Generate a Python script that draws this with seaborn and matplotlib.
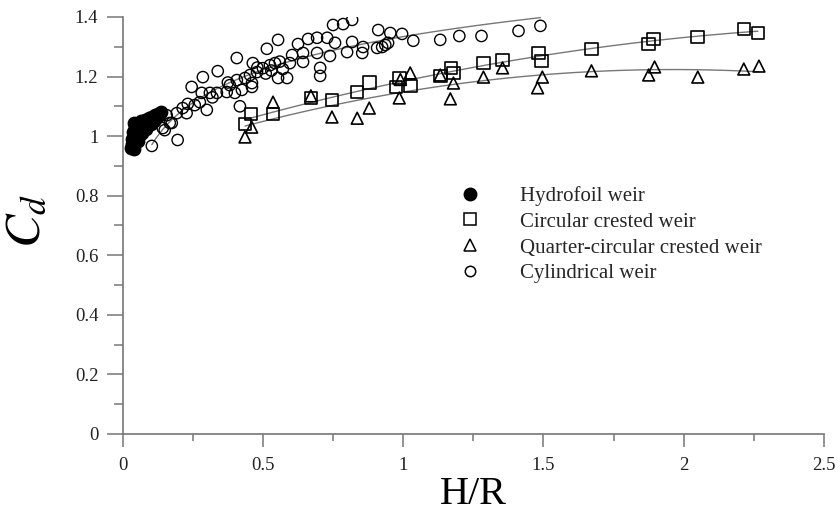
import numpy as np
import pandas as pd
import matplotlib
matplotlib.use("Agg")
import matplotlib.pyplot as plt
import seaborn as sns
from matplotlib.ticker import MultipleLocator
from matplotlib.lines import Line2D

# data
hydro_x = [0.030, 0.035, 0.040, 0.035, 0.040, 0.038, 0.045, 0.042, 0.050, 0.055,
           0.060, 0.055, 0.065, 0.065, 0.070, 0.075, 0.080, 0.085, 0.090, 0.095,
           0.100, 0.105, 0.110, 0.115, 0.120, 0.125, 0.130, 0.135]
hydro_y = [0.960, 0.975, 0.955, 0.990, 1.000, 1.015, 1.030, 1.045, 1.010, 0.985,
           1.000, 1.040, 1.025, 1.050, 1.010, 1.035, 1.055, 1.025, 1.045, 1.060,
           1.040, 1.065, 1.050, 1.070, 1.060, 1.075, 1.070, 1.080]

circ_x = [0.436, 0.457, 0.536, 0.671, 0.746, 0.836, 0.879, 0.975, 0.986, 1.025,
          1.132, 1.171, 1.179, 1.286, 1.354, 1.482, 1.493, 1.671, 1.875, 1.893,
          2.050, 2.214, 2.264]
circ_y = [1.040, 1.074, 1.074, 1.128, 1.121, 1.148, 1.180, 1.165, 1.195, 1.168,
          1.202, 1.229, 1.212, 1.245, 1.255, 1.279, 1.252, 1.292, 1.309, 1.326,
          1.333, 1.360, 1.346]

quar_x = [0.436, 0.460, 0.536, 0.671, 0.746, 0.836, 0.879, 0.986, 0.990, 1.025,
          1.132, 1.179, 1.168, 1.286, 1.354, 1.496, 1.479, 1.671, 1.875, 1.896,
          2.050, 2.214, 2.268]
quar_y = [0.997, 1.030, 1.114, 1.135, 1.064, 1.060, 1.094, 1.128, 1.190, 1.212,
          1.205, 1.178, 1.125, 1.198, 1.229, 1.198, 1.162, 1.219, 1.205, 1.232,
          1.198, 1.225, 1.235]

cyl_x = [0.104, 0.196, 0.143, 0.150, 0.168, 0.157, 0.175, 0.193, 0.214, 0.228,
         0.232, 0.257, 0.275, 0.300, 0.246, 0.286, 0.339, 0.282, 0.311, 0.336,
         0.371, 0.400, 0.425, 0.382, 0.407, 0.436, 0.454, 0.479, 0.500, 0.525,
         0.543, 0.461, 0.464, 0.407, 0.514, 0.554, 0.418, 0.461, 0.625, 0.661,
         0.693, 0.729, 0.750, 0.786, 0.818, 0.757, 0.818, 0.857, 0.800, 0.854,
         0.693, 0.739, 0.643, 0.604, 0.643, 0.596, 0.571, 0.704, 0.704, 0.911,
         0.954, 0.996, 0.907, 0.925, 0.936, 0.946, 0.554, 0.586, 1.036, 1.132,
         1.200, 1.279, 1.411, 1.489, 0.480, 0.510, 0.530, 0.560, 0.375, 0.320]
cyl_y = [0.967, 0.987, 1.027, 1.020, 1.044, 1.070, 1.044, 1.077, 1.094, 1.077,
         1.108, 1.104, 1.114, 1.088, 1.165, 1.198, 1.218, 1.145, 1.145, 1.145,
         1.148, 1.145, 1.155, 1.171, 1.188, 1.195, 1.205, 1.215, 1.228, 1.238,
         1.245, 1.178, 1.245, 1.262, 1.293, 1.323, 1.100, 1.165, 1.309, 1.326,
         1.330, 1.330, 1.373, 1.376, 1.390, 1.313, 1.316, 1.299, 1.282, 1.279,
         1.279, 1.269, 1.279, 1.272, 1.249, 1.245, 1.225, 1.229, 1.202, 1.356,
         1.346, 1.343, 1.296, 1.299, 1.306, 1.313, 1.195, 1.195, 1.320, 1.323,
         1.336, 1.336, 1.353, 1.370, 1.230, 1.210, 1.220, 1.250, 1.180, 1.130]

labels = ["Hydrofoil weir", "Circular crested weir",
          "Quarter-circular crested weir", "Cylindrical weir"]

hydro = pd.DataFrame({"HR": hydro_x, "Cd": hydro_y})
circ = pd.DataFrame({"HR": circ_x, "Cd": circ_y})
quar = pd.DataFrame({"HR": quar_x, "Cd": quar_y})
cyl = pd.DataFrame({"HR": cyl_x, "Cd": cyl_y})

sns.set_style("ticks")
plt.rcParams["font.family"] = ["Liberation Serif", "DejaVu Serif"]
plt.rcParams["mathtext.fontset"] = "stix"

fig = plt.figure(figsize=(8.4, 5.13), dpi=100)
ax = fig.add_axes([0.146, 0.154, 0.835, 0.813])

axis_col = "#777777"
line_col = "#777777"

# fitted curves
line_kw = {"color": line_col, "lw": 1.0}
sns.regplot(data=circ, x="HR", y="Cd", order=2, ci=None, scatter=False,
            truncate=True, ax=ax, line_kws=line_kw)
sns.regplot(data=quar, x="HR", y="Cd", order=2, ci=None, scatter=False,
            truncate=True, ax=ax, line_kws=line_kw)
sns.regplot(data=cyl, x="HR", y="Cd", logx=True, ci=None, scatter=False,
            truncate=True, ax=ax, line_kws=line_kw)

sns.scatterplot(data=cyl, x="HR", y="Cd", marker="o", s=66, facecolor="none",
                edgecolor="black", linewidth=1.0, ax=ax, zorder=3)
sns.scatterplot(data=circ, x="HR", y="Cd", marker="s", s=82, facecolor="none",
                edgecolor="black", linewidth=1.2, ax=ax, zorder=3)
sns.scatterplot(data=quar, x="HR", y="Cd", marker="^", s=72, facecolor="none",
                edgecolor="black", linewidth=1.2, ax=ax, zorder=3)
sns.scatterplot(data=hydro, x="HR", y="Cd", marker="o", s=80, color="black",
                edgecolor="black", linewidth=1.0, ax=ax, zorder=4)

ax.set_xlim(0, 2.5)
ax.set_ylim(0, 1.4)
ax.xaxis.set_minor_locator(MultipleLocator(0.25))
ax.yaxis.set_minor_locator(MultipleLocator(0.1))
ax.set_xticks([0, 0.5, 1, 1.5, 2, 2.5])
ax.set_xticklabels(["0", "0.5", "1", "1.5", "2", "2.5"])
ax.set_yticks([0, 0.2, 0.4, 0.6, 0.8, 1.0, 1.2, 1.4])
ax.set_yticklabels(["0", "0.2", "0.4", "0.6", "0.8", "1", "1.2", "1.4"])

for s in ["top", "right"]:
    ax.spines[s].set_visible(False)
for s in ["left", "bottom"]:
    ax.spines[s].set_color(axis_col)
    ax.spines[s].set_linewidth(1.2)

ax.tick_params(axis="y", which="major", length=11.5, width=1.1, color=axis_col,
               labelsize=13.5, labelcolor="#222222", pad=6)
ax.tick_params(axis="y", which="minor", length=6.5, width=1.1, color=axis_col)
ax.tick_params(axis="x", which="major", length=9.4, width=1.1, color=axis_col,
               labelsize=13.5, labelcolor="#222222", pad=7)
ax.tick_params(axis="x", which="minor", length=4.8, width=1.1, color=axis_col)

ax.set_xlabel("H/R", fontsize=29, color="black")
ax.set_ylabel("$C_d$", fontsize=36, color="black")
ax.xaxis.set_label_coords(0.5, -0.1)
ax.yaxis.set_label_coords(-0.103, 0.51)

handles = [
    Line2D([], [], ls="none", marker="o", ms=9, mfc="black", mec="black"),
    Line2D([], [], ls="none", marker="s", ms=8.5, mfc="none", mec="black", mew=1.1),
    Line2D([], [], ls="none", marker="^", ms=8.5, mfc="none", mec="black", mew=1.1),
    Line2D([], [], ls="none", marker="o", ms=7.5, mfc="none", mec="black", mew=1.1),
]
fig.legend(handles, labels, loc="upper left", bbox_to_anchor=(449 / 840, 1 - 186 / 513),
           frameon=False, fontsize=15, handlelength=2.0, handletextpad=1.4,
           labelspacing=0.3, borderpad=0, borderaxespad=0)

fig.savefig("out.png", dpi=100)
